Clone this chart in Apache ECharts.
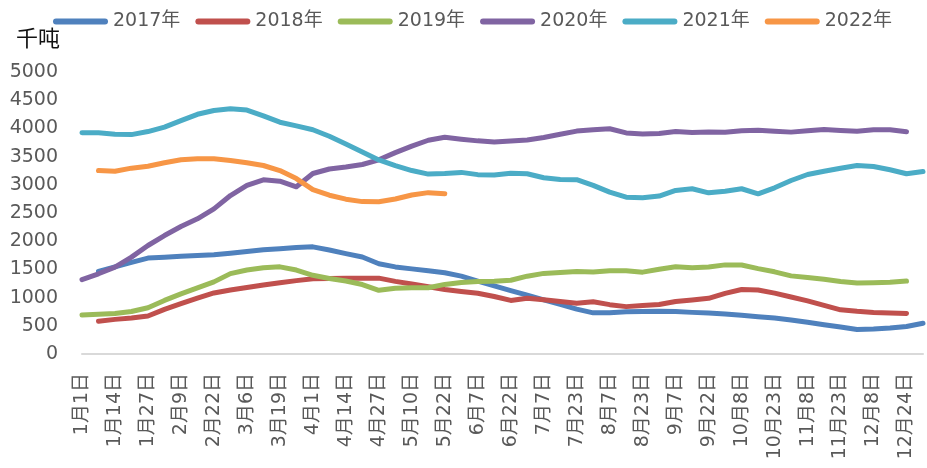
<!DOCTYPE html>
<html lang="zh" style="height: 100%">
<head>
    <meta charset="UTF-8">
    <script src="https://cdn.jsdelivr.net/npm/echarts@6/dist/echarts.min.js"></script>
</head>
<body style="height: 100%; margin: 0; background: #fff">
<div id="container" style="width: 927px; height: 468px"></div>
<script>
    // 日期(每周一个点, 轴上隔一个显示)
    var dates = ['1月1日', '1月7日', '1月14日', '1月20日', '1月27日', '2月2日', '2月9日', '2月15日',
        '2月22日', '2月28日', '3月6日', '3月12日', '3月19日', '3月25日', '4月1日', '4月7日',
        '4月14日', '4月20日', '4月27日', '5月3日', '5月10日', '5月16日', '5月22日', '5月31日',
        '6月7日', '6月15日', '6月22日', '6月30日', '7月7日', '7月15日', '7月23日', '7月31日',
        '8月7日', '8月15日', '8月23日', '8月31日', '9月7日', '9月15日', '9月22日', '9月30日',
        '10月8日', '10月15日', '10月23日', '10月31日', '11月8日', '11月15日', '11月23日', '11月30日',
        '12月8日', '12月15日', '12月24日', '12月31日'];

    var seriesNames = ['2017年', '2018年', '2019年', '2020年', '2021年', '2022年'];
    var colors = ['#4F81BD', '#C0504D', '#9BBB59', '#8064A2', '#4BACC6', '#F79646'];

    var y2017 = [null, 1465, 1545, 1625, 1700, 1717, 1734, 1746, 1758, 1788, 1817, 1847, 1865, 1888, 1900, 1845,
        1780, 1720, 1600, 1544, 1509, 1475, 1440, 1380, 1292, 1208, 1125, 1043, 961, 879, 796, 730,
        730, 748, 753, 759, 752, 738, 725, 709, 686, 661, 637, 604, 563, 520, 479, 434,
        443, 461, 488, 546];
    var y2018 = [null, 580, 614, 637, 673, 791, 895, 992, 1082, 1134, 1179, 1223, 1262, 1301, 1335, 1340,
        1345, 1345, 1345, 1288, 1240, 1191, 1145, 1108, 1077, 1019, 950, 989, 960, 931, 901, 926,
        875, 840, 858, 877, 932, 958, 988, 1076, 1144, 1135, 1080, 1010, 941, 862, 783, 756,
        737, 728, 718, null];
    var y2019 = [690, 705, 720, 753, 821, 950, 1065, 1171, 1279, 1425, 1490, 1531, 1545, 1488, 1395, 1338,
        1295, 1232, 1130, 1164, 1174, 1174, 1234, 1268, 1285, 1288, 1308, 1380, 1429, 1445, 1461, 1455,
        1478, 1478, 1451, 1503, 1548, 1530, 1544, 1580, 1578, 1514, 1457, 1385, 1356, 1326, 1286, 1257,
        1264, 1271, 1293, null];
    var y2020 = [1320, 1422, 1540, 1717, 1924, 2100, 2260, 2397, 2574, 2810, 2988, 3088, 3064, 2965, 3200, 3280,
        3315, 3360, 3443, 3571, 3686, 3790, 3843, 3809, 3779, 3758, 3777, 3796, 3839, 3895, 3952, 3976,
        3993, 3920, 3902, 3911, 3945, 3929, 3936, 3932, 3958, 3967, 3948, 3934, 3957, 3980, 3962, 3948,
        3975, 3975, 3940, null];
    var y2021 = [3925, 3922, 3895, 3890, 3944, 4024, 4138, 4250, 4317, 4347, 4325, 4223, 4110, 4045, 3976, 3860,
        3725, 3583, 3441, 3340, 3253, 3190, 3200, 3220, 3180, 3175, 3205, 3195, 3125, 3095, 3090, 2990,
        2870, 2780, 2770, 2800, 2900, 2930, 2858, 2887, 2930, 2840, 2947, 3076, 3183, 3241, 3294, 3342,
        3324, 3266, 3195, 3236];
    var y2022 = [null, 3253, 3240, 3295, 3330, 3390, 3443, 3460, 3460, 3430, 3390, 3342, 3253, 3110, 2915, 2815,
        2745, 2702, 2700, 2748, 2820, 2861, 2840];

    var allData = [y2017, y2018, y2019, y2020, y2021, y2022];
    var font = "'DejaVu Sans', 'Noto Sans CJK SC', sans-serif";

    var dom = document.getElementById("container");
    var myChart = echarts.init(dom);

    var series = [];
    for (var i = 0; i < seriesNames.length; i++) {
        series.push({
            name: seriesNames[i],
            type: 'line',
            data: allData[i],
            symbol: 'none',
            smooth: false,
            animation: false,
            lineStyle: {
                width: 5,
                color: colors[i],
                cap: 'round',
                join: 'round'
            },
            itemStyle: {color: colors[i]}
        });
    }

    var option = {
        backgroundColor: '#fff',
        color: colors,
        title: {
            text: '千吨',
            left: 11,
            top: 22,
            textStyle: {
                fontSize: 22,
                fontWeight: 'normal',
                color: '#111',
                fontFamily: "'Noto Sans CJK SC', sans-serif"
            }
        },
        legend: {
            data: seriesNames,
            left: 48,
            top: 7,
            icon: 'path://M3,0 L52,0 A3,3 0 0 1 52,6 L3,6 A3,3 0 0 1 3,0 Z',
            itemWidth: 55,
            itemHeight: 6,
            itemGap: 15,
            textStyle: {
                fontSize: 19,
                color: '#595959',
                fontFamily: font
            }
        },
        grid: {
            left: 82,
            right: 4,
            top: 72,
            bottom: 114
        },
        xAxis: {
            type: 'category',
            data: dates,
            boundaryGap: false,
            axisLine: {lineStyle: {color: '#D9D9D9', width: 2}},
            axisTick: {show: false},
            axisLabel: {
                interval: 1,
                rotate: 90,
                margin: 19,
                fontSize: 19,
                color: '#595959',
                fontFamily: font
            },
            splitLine: {show: false}
        },
        yAxis: {
            type: 'value',
            min: 0,
            max: 5000,
            interval: 500,
            axisLine: {show: false},
            axisTick: {show: false},
            splitLine: {show: false},
            axisLabel: {
                margin: 24,
                fontSize: 19,
                color: '#595959',
                fontFamily: font,
                formatter: function (v) {
                    return String(v);
                }
            }
        },
        series: series
    };

    myChart.setOption(option);
</script>
</body>
</html>
